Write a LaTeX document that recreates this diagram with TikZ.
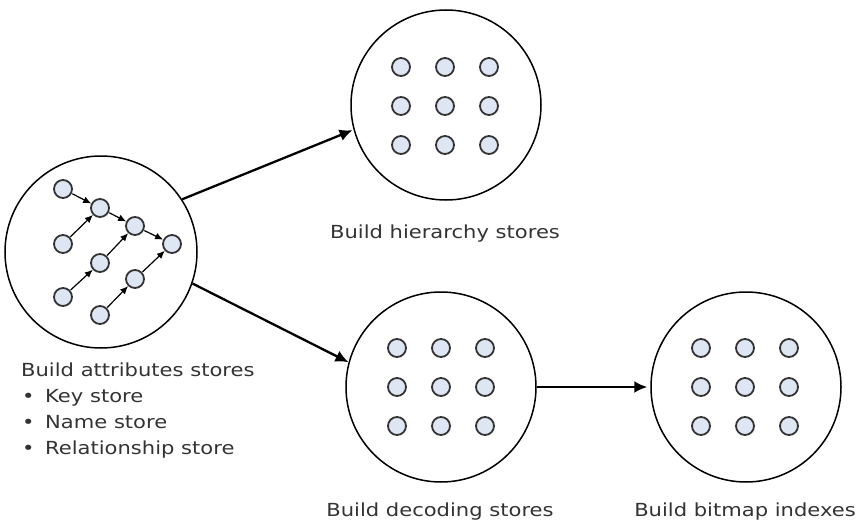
\documentclass[tikz,border=0pt]{standalone}
\usepackage{fontspec}
\setmainfont{DejaVu Sans}[FakeStretch=1.17]
\usetikzlibrary{arrows.meta}
\definecolor{dotblue}{RGB}{221,230,242}
\definecolor{inkgrey}{RGB}{51,51,51}

\begin{document}
\begin{tikzpicture}[x=1pt, y=-1pt,
  store/.style={circle, draw=black, line width=1.5pt, minimum size=190pt, inner sep=0pt},
  pt/.style={circle, draw=inkgrey, fill=dotblue, line width=1.8pt, minimum size=18pt, inner sep=0pt},
  flow/.style={-{Latex[length=8pt,width=7pt]}, line width=1.2pt, shorten <=0.5pt},
  bigflow/.style={-{Latex[length=13pt,width=12pt]}, line width=2.3pt},
  caption/.style={font=\fontsize{18}{26}\selectfont, text=inkgrey, inner sep=0pt}]

\useasboundingbox (0,0) rectangle (868,527);

% the four stores
\node[store, minimum size=192pt] (attr) at (101,252) {};
\node[store] (hier) at (446,105) {};
\node[store] (dec) at (441,387) {};
\node[store] (bmp) at (746,387) {};

% attribute chains
\node[pt] (a1) at (63,189) {};
\node[pt] (a2) at (63,244) {};
\node[pt] (a3) at (63,297) {};
\node[pt] (b1) at (100,208) {};
\node[pt] (b2) at (100,263) {};
\node[pt] (b3) at (100,315) {};
\node[pt] (c1) at (135,226) {};
\node[pt] (c2) at (135,279) {};
\node[pt] (d) at (172,244) {};

\draw[flow] (a1) -- (b1);
\draw[flow] (a2) -- (b1);
\draw[flow] (b1) -- (c1);
\draw[flow] (a3) -- (b2);
\draw[flow] (b2) -- (c1);
\draw[flow] (c1) -- (d);
\draw[flow] (b3) -- (c2);
\draw[flow] (c2) -- (d);

% grids of the other stores
\foreach \cx/\cy/\s in {445/106/h, 441/387/d, 745/387/m} {
  \foreach \i/\dx in {1/-44, 2/0, 3/44} {
    \foreach \j/\dy in {1/-39, 2/0, 3/39} {
      \node[pt] (\s\i\j) at (\cx+\dx,\cy+\dy) {};
    }
  }
}

% build order
\draw[bigflow, shorten >=1pt] (attr.33) -- (hier.195);
\draw[bigflow] (attr.-19) -- (dec.165);
\draw[bigflow, shorten >=3pt] (dec.east) -- (bmp.west);

% captions
\node[caption, anchor=north west, align=left] (attrlbl) at (21,363)
  {Build attributes stores\\
   \makebox[24pt][l]{\hspace{1pt}\textbullet}Key store\\
   \makebox[24pt][l]{\hspace{1pt}\textbullet}Name store\\
   \makebox[24pt][l]{\hspace{1pt}\textbullet}Relationship store};
\node[caption] (hierlbl) at (445,234) {Build hierarchy stores};
\node[caption] (declbl) at (440,512) {Build decoding stores};
\node[caption] (bmplbl) at (745,512) {Build bitmap indexes};

\end{tikzpicture}
\end{document}
